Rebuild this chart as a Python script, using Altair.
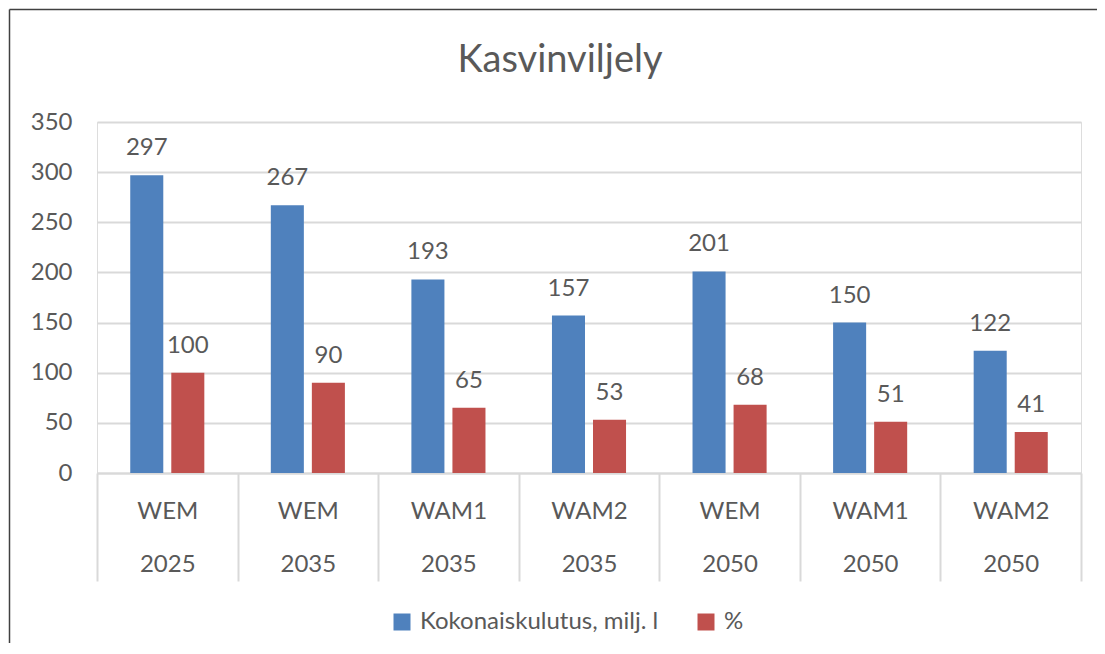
import altair as alt
import pandas as pd

scenarios = ["WEM", "WEM", "WAM1", "WAM2", "WEM", "WAM1", "WAM2"]
years = ["2025", "2035", "2035", "2035", "2050", "2050", "2050"]
consumption = [297, 267, 193, 157, 201, 150, 122]
percent = [100, 90, 65, 53, 68, 51, 41]
series_names = ["Kokonaiskulutus, milj. l", "%"]
series_colors = ["#4F81BD", "#C0504D"]
y_ticks = [0, 50, 100, 150, 200, 250, 300, 350]

cats = [f"{s}|{y}" for s, y in zip(scenarios, years)]
rows = []
for c, v1, v2 in zip(cats, consumption, percent):
    rows.append({"cat": c, "series": series_names[0], "value": v1})
    rows.append({"cat": c, "series": series_names[1], "value": v2})
df = pd.DataFrame(rows)

FONT = "Lato"
TXT = "#595959"
GRID = "#D9D9D9"

x_enc = alt.X(
    "cat:N",
    sort=cats,
    scale=alt.Scale(paddingInner=0, paddingOuter=0),
    axis=alt.Axis(
        title=None,
        labelAngle=0,
        labelExpr="split(datum.label, '|')",
        labelLineHeight=53,
        labelBaseline="top",
        labelPadding=-82,
        labelFontSize=24,
        labelFont=FONT,
        labelColor=TXT,
        tickBand="extent",
        tickSize=108,
        tickColor=GRID,
        tickWidth=2,
        domainColor=GRID,
        domainWidth=2,
        labelOverlap=False,
        labelBound=False,
    ),
)
xoff = alt.XOffset(
    "series:N",
    sort=series_names,
    scale=alt.Scale(paddingInner=0.195, paddingOuter=0.81),
)
y_enc = alt.Y(
    "value:Q",
    scale=alt.Scale(domain=[0, 350], nice=False),
    axis=alt.Axis(
        title=None,
        values=y_ticks,
        domain=False,
        ticks=False,
        labelPadding=25,
        labelFontSize=24,
        labelFont=FONT,
        labelColor=TXT,
        gridColor=GRID,
        gridWidth=2,
    ),
)
color_enc = alt.Color(
    "series:N",
    sort=series_names,
    scale=alt.Scale(domain=series_names, range=series_colors),
    legend=alt.Legend(
        title=None,
        orient="none",
        legendX=293,
        legendY=488,
        direction="horizontal",
        symbolType="square",
        symbolSize=289,
        symbolStrokeWidth=0,
        symbolOpacity=1,
        labelFontSize=24,
        labelFont=FONT,
        labelColor=TXT,
        labelOffset=6,
        labelLimit=0,
        columnPadding=35,
    ),
)

base = alt.Chart(df)
bars = base.mark_bar().encode(x=x_enc, xOffset=xoff, y=y_enc, color=color_enc)
labels = base.mark_text(
    baseline="middle", dy=-27, fontSize=24, font=FONT, color=TXT
).encode(x=alt.X("cat:N", sort=cats), xOffset=xoff, y="value:Q", text="value:Q")

frame_df = pd.DataFrame({"k": [0]})
top_rule = alt.Chart(frame_df).mark_rule(color="#404040", strokeWidth=1.5).encode(
    x=alt.value(-87.5), x2=alt.value(1020), y=alt.value(-112.5)
)
left_rule = alt.Chart(frame_df).mark_rule(color="#404040", strokeWidth=1.5).encode(
    x=alt.value(-87.5), y=alt.value(-112.5), y2=alt.value(560)
)

chart = (
    alt.layer(bars, labels, top_rule, left_rule)
    .properties(
        width=984,
        height=351,
        title=alt.TitleParams(
            "Kasvinviljely",
            fontSize=38,
            font=FONT,
            fontWeight="normal",
            color=TXT,
            anchor="middle",
            dx=-29,
            offset=-71,
        ),
        autosize=alt.AutoSizeParams(type="none"),
        padding={"left": 89, "top": 114, "right": 16, "bottom": 170},
    )
    .configure_view(stroke=None)
    .configure(background="white")
)

chart.save("out.html", embed_options={"renderer": "svg", "actions": False})
